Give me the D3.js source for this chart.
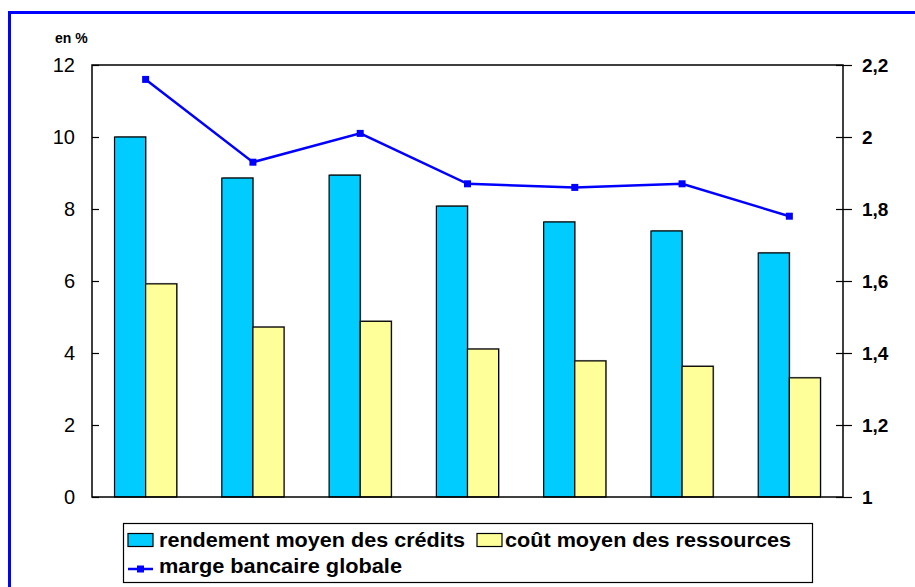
<!DOCTYPE html>
<html>
<head>
<meta charset="utf-8">
<script src="https://cdn.jsdelivr.net/npm/d3@7"></script>
<style>
  body { margin: 0; background: #fff; }
  svg text { font-family: "Liberation Sans", Arial, sans-serif; }
</style>
</head>
<body>
<svg id="chart" width="915" height="587"></svg>
<script>
// categories (no labels shown on the x axis)
const categories = ["1", "2", "3", "4", "5", "6", "7"];
// left axis, en %
const rendement = [10.0, 8.86, 8.94, 8.08, 7.64, 7.39, 6.78];
const cout = [5.92, 4.72, 4.88, 4.11, 3.78, 3.63, 3.31];
// right axis
const marge = [2.16, 1.93, 2.01, 1.87, 1.86, 1.87, 1.78];
const leftTicks = [0, 2, 4, 6, 8, 10, 12];
const rightTicks = [1, 1.2, 1.4, 1.6, 1.8, 2, 2.2];
const seriesNames = ["rendement moyen des crédits", "coût moyen des ressources", "marge bancaire globale"];

const svg = d3.select("#chart");

// outer frame, runs off the right and bottom
svg.append("rect")
  .attr("x", 9.5).attr("y", 12.5)
  .attr("width", 920).attr("height", 600)
  .attr("fill", "none").attr("stroke", "#0000ff").attr("stroke-width", 3);

const pLeft = 92, pRight = 843, pTop = 65, pBottom = 497;

const x = d3.scaleBand().domain(categories).range([pLeft, pRight])
  .paddingInner(0.42).paddingOuter(0.21);
const sub = d3.scaleBand().domain([0, 1]).range([0, x.bandwidth()]);
const yL = d3.scaleLinear().domain([0, 12]).range([pBottom, pTop]);
const yR = d3.scaleLinear().domain([1, 2.2]).range([pBottom, pTop]);

// bars
const series = [
  { vals: rendement, color: "#00ccff" },
  { vals: cout, color: "#ffff99" }
];
series.forEach((s, si) => {
  // light shadow
  svg.append("g").selectAll("rect").data(s.vals).enter().append("rect")
    .attr("x", (d, i) => x(categories[i]) + sub(si) + 1)
    .attr("y", d => yL(d) - 1)
    .attr("width", sub.bandwidth())
    .attr("height", d => pBottom - yL(d))
    .attr("fill", "#aaa");
});
series.forEach((s, si) => {
  svg.append("g").selectAll("rect").data(s.vals).enter().append("rect")
    .attr("x", (d, i) => x(categories[i]) + sub(si))
    .attr("y", d => yL(d))
    .attr("width", sub.bandwidth())
    .attr("height", d => pBottom - yL(d))
    .attr("fill", s.color)
    .attr("stroke", "#000").attr("stroke-width", 1.2);
});

// plot frame
svg.append("rect")
  .attr("x", pLeft).attr("y", pTop)
  .attr("width", pRight - pLeft).attr("height", pBottom - pTop)
  .attr("fill", "none").attr("stroke", "#000").attr("stroke-width", 1.5);

// left axis
const axL = svg.append("g").attr("transform", `translate(${pLeft},0)`)
  .call(d3.axisLeft(yL).tickValues(leftTicks).tickSize(-7).tickPadding(17));
axL.select(".domain").remove();
axL.selectAll("line").attr("stroke", "#000").attr("stroke-width", 1.2);
axL.selectAll("text").attr("font-size", 20).attr("fill", "#000")
  .attr("font-family", "Liberation Sans, Arial, sans-serif");

// right axis, ticks cross the line
const fmt = d => String(d).replace(".", ",");
const axR = svg.append("g").attr("transform", `translate(${pRight},0)`)
  .call(d3.axisRight(yR).tickValues(rightTicks).tickSizeInner(9).tickSizeOuter(0).tickPadding(10).tickFormat(fmt));
axR.select(".domain").remove();
axR.selectAll(".tick").append("line")
  .attr("x1", -7).attr("x2", 0).attr("stroke", "#000").attr("stroke-width", 1.2);
axR.selectAll("line").attr("stroke", "#000").attr("stroke-width", 1.2);
axR.selectAll("text").attr("font-size", 19).attr("font-weight", "bold").attr("fill", "#000")
  .attr("font-family", "Liberation Sans, Arial, sans-serif");

// unit label
svg.append("text").attr("x", 55).attr("y", 43)
  .attr("font-size", 14).attr("font-weight", "bold").text("en %");

// line
const line = d3.line()
  .x((d, i) => x(categories[i]) + x.bandwidth() / 2)
  .y(d => yR(d));
svg.append("path").datum(marge)
  .attr("d", line).attr("fill", "none")
  .attr("stroke", "#0000ff").attr("stroke-width", 2.5);
svg.append("g").selectAll("rect").data(marge).enter().append("rect")
  .attr("x", (d, i) => x(categories[i]) + x.bandwidth() / 2 - 3.5)
  .attr("y", d => yR(d) - 3.5)
  .attr("width", 7).attr("height", 7)
  .attr("fill", "#0000ff");

// legend
const lg = svg.append("g");
lg.append("rect").attr("x", 123.5).attr("y", 523.5).attr("width", 689).attr("height", 59)
  .attr("fill", "#fff").attr("stroke", "#000").attr("stroke-width", 1.2);
const sw = [
  { x: 128, color: "#00ccff", tx: 159, tw: 306 },
  { x: 477, color: "#ffff99", tx: 505, tw: 286 }
];
sw.forEach((s, i) => {
  lg.append("rect").attr("x", s.x).attr("y", 533.5).attr("width", 25).attr("height", 13)
    .attr("fill", s.color).attr("stroke", "#000").attr("stroke-width", 1.2);
  lg.append("text").attr("x", s.tx).attr("y", 547)
    .attr("font-size", 19.5).attr("font-weight", "bold")
    .attr("textLength", s.tw).attr("lengthAdjust", "spacingAndGlyphs")
    .text(seriesNames[i]);
});
lg.append("line").attr("x1", 128).attr("x2", 153).attr("y1", 569).attr("y2", 569)
  .attr("stroke", "#0000ff").attr("stroke-width", 2.5);
lg.append("rect").attr("x", 137).attr("y", 565.5).attr("width", 7).attr("height", 7)
  .attr("fill", "#0000ff");
lg.append("text").attr("x", 159).attr("y", 573)
  .attr("font-size", 19.5).attr("font-weight", "bold")
  .attr("textLength", 243).attr("lengthAdjust", "spacingAndGlyphs")
  .text(seriesNames[2]);
</script>
</body>
</html>
